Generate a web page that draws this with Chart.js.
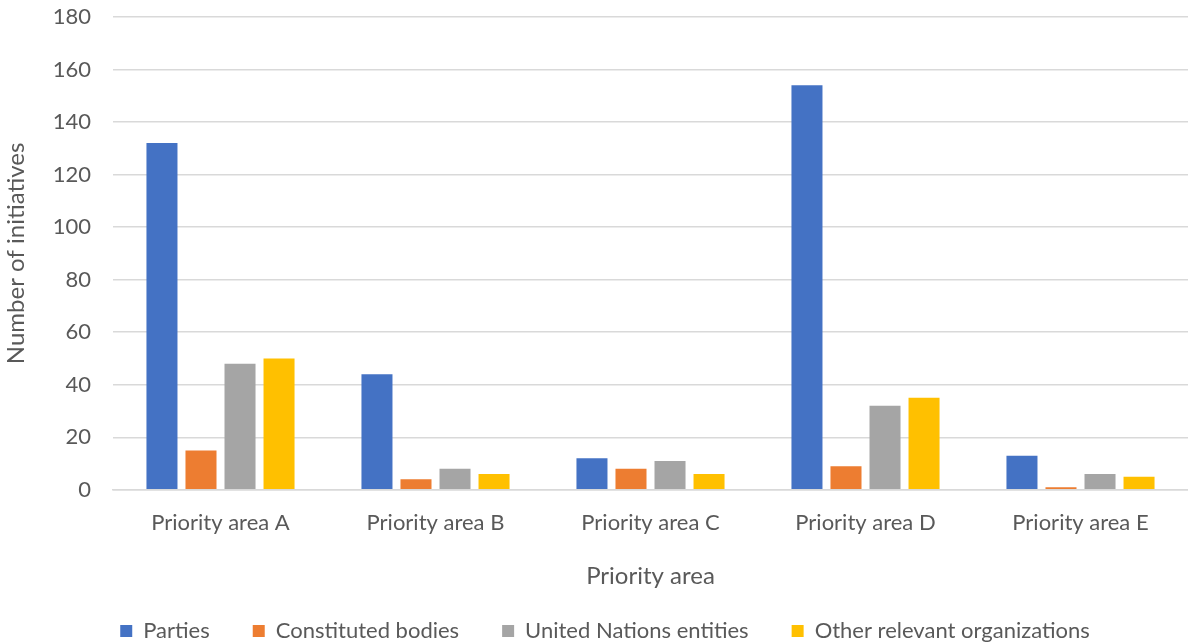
<!DOCTYPE html>
<html>
<head>
<meta charset="utf-8">
<script src="https://cdn.jsdelivr.net/npm/chart.js@4.4.1/dist/chart.umd.min.js"></script>
<style>
  html, body { margin: 0; padding: 0; background: #fff; }
  #wrap { width: 1188px; height: 644px; }
</style>
</head>
<body>
<div id="wrap"><canvas id="myChart"></canvas></div>
<script>
const categories = ['Priority area A', 'Priority area B', 'Priority area C', 'Priority area D', 'Priority area E']
const parties = [132, 44, 12, 154, 13]
const constitutedBodies = [15, 4, 8, 9, 1]
const unEntities = [48, 8, 11, 32, 6]
const otherOrgs = [50, 6, 6, 35, 5]
const yTicks = [0, 20, 40, 60, 80, 100, 120, 140, 160, 180]

const fontFamily = 'Lato, "Open Sans", sans-serif'
const textColor = '#595959'

Chart.defaults.font.family = fontFamily
Chart.defaults.color = textColor

const ctx = document.getElementById('myChart').getContext('2d')

const makeSet = (label, data, color) => ({
    label: label,
    data: data,
    backgroundColor: color,
    borderWidth: 0,
    categoryPercentage: 0.726,
    barPercentage: 0.795
})

// nudge the legend a bit to the right, like the original
const legendShift = {
    id: 'legendShift',
    afterLayout: chart => {
        chart.legend.left += 10
        chart.legend.right += 10
    }
}

const chart = new Chart(ctx, {
    type: 'bar',
    data: {
        labels: categories,
        datasets: [
            makeSet('Parties', parties, '#4472c4'),
            makeSet('Constituted bodies', constitutedBodies, '#ed7d31'),
            makeSet('United Nations entities', unEntities, '#a5a5a5'),
            makeSet('Other relevant organizations', otherOrgs, '#ffc000')
        ]
    },
    options: {
        responsive: true,
        maintainAspectRatio: false,
        animation: false,
        layout: { padding: { top: 4, right: 0, left: 2, bottom: 0 } },
        plugins: {
            tooltip: { enabled: false },
            legend: {
                position: 'bottom',
                maxHeight: 67,
                labels: {
                    boxWidth: 12,
                    boxHeight: 12,
                    padding: 43,
                    color: textColor,
                    font: { size: 22 }
                }
            }
        },
        scales: {
            x: {
                grid: { display: false },
                border: { display: true, color: '#d9d9d9', width: 1.5 },
                ticks: { color: textColor, font: { size: 22 }, padding: 12 },
                title: {
                    display: true,
                    text: 'Priority area',
                    color: textColor,
                    font: { size: 24 },
                    padding: { top: 14, bottom: -14 }
                }
            },
            y: {
                min: 0,
                max: 180,
                afterBuildTicks: scale => { scale.ticks = yTicks.map(v => ({ value: v })) },
                afterFit: scale => {
                    scale.width = 111
                    scale.paddingTop = 17
                    scale.paddingBottom = 14
                },
                grid: { color: '#d9d9d9', lineWidth: 1.5, drawTicks: false },
                border: { display: false },
                ticks: { color: textColor, font: { size: 22 }, padding: 22 },
                title: {
                    display: true,
                    text: 'Number of initiatives',
                    color: textColor,
                    font: { size: 24 },
                    padding: { top: 0, bottom: 10 }
                }
            }
        }
    },
    plugins: [legendShift]
})
</script>
</body>
</html>
